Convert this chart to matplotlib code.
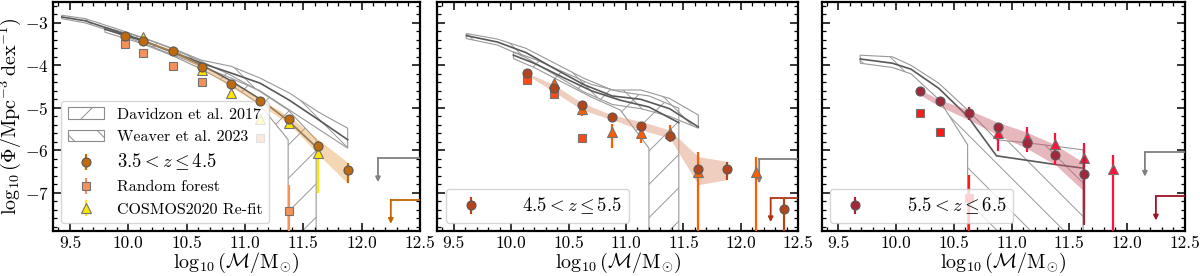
import numpy as np
import matplotlib
matplotlib.use("Agg")
import matplotlib.pyplot as plt
from matplotlib.patches import Polygon, Patch

plt.rcParams['font.family'] = 'serif'
plt.rcParams['font.serif'] = ['cmr10', 'DejaVu Serif']
plt.rcParams['mathtext.fontset'] = 'cm'
plt.rcParams['axes.formatter.use_mathtext'] = True
plt.rcParams['hatch.linewidth'] = 0.7

nan = np.nan

# ---------------- literature bands ----------------
# Davidzon et al. 2017 (hatch '/')
dav1_x = [9.80, 10.10, 10.37, 10.62, 10.87, 11.12, 11.37, 11.61]
dav1_hi = [-3.10, -3.33, -3.60, -3.90, -4.22, -4.60, -5.05, -5.75]
dav1_md = [-3.15, -3.40, -3.68, -3.98, -4.35, -4.78, -5.30, -5.92]
dav1_lo = [-3.22, -3.47, -3.76, -4.08, -4.45, -4.90, -5.75, nan]

dav2_x = [10.02, 10.20, 10.45, 10.70, 10.95, 11.20, 11.46]
dav2_hi = [-3.68, -3.85, -4.15, -4.45, -4.62, -4.72, -5.01]
dav2_md = [-3.76, -3.95, -4.28, -4.60, -4.82, -4.98, -5.35]
dav2_lo = [-3.84, -4.05, -4.40, -4.75, -5.05, -5.95, nan]

# Weaver et al. 2023 (hatch '\\')
wea1_x = [9.43, 9.63, 9.88, 10.13, 10.38, 10.63, 10.88, 11.13, 11.38, 11.63, 11.88]
wea1_hi = [-2.82, -2.90, -3.12, -3.35, -3.60, -3.88, -4.02, -4.30, -4.65, -5.10, -5.48]
wea1_md = [-2.86, -2.95, -3.18, -3.42, -3.68, -3.95, -4.18, -4.42, -4.82, -5.28, -5.75]
wea1_lo = [-2.90, -3.00, -3.22, -3.48, -3.75, -4.02, -4.30, -4.60, -5.05, -5.50, -5.95]

wea2_x = [9.61, 9.88, 10.13, 10.38, 10.63, 10.88, 11.13, 11.38, 11.63]
wea2_hi = [-3.25, -3.38, -3.60, -3.95, -4.30, -4.58, -4.58, -4.78, -5.17]
wea2_md = [-3.30, -3.45, -3.70, -4.08, -4.45, -4.72, -4.80, -5.02, -5.45]
wea2_lo = [-3.37, -3.52, -3.82, -4.22, -4.62, -4.92, -5.02, -5.20, -5.48]

wea3_x = [9.69, 9.97, 10.13, 10.37, 10.62, 10.87, 11.12, 11.37, 11.62]
wea3_hi = [-3.76, -3.80, -4.00, -4.42, -5.05, -5.75, -5.82, -5.90, -5.99]
wea3_md = [-3.85, -3.95, -4.09, -4.54, -5.20, -6.13, -6.23, -6.33, -6.42]
wea3_lo = [-3.95, -4.05, -4.20, -4.80, -5.87, nan, nan, nan, nan]

# ---------------- this work: panel 1 (3.5<z<=4.5) ----------------
c1_x = [9.97, 10.13, 10.38, 10.63, 10.88, 11.13, 11.38, 11.63, 11.88]
c1_y = [-3.31, -3.43, -3.66, -4.03, -4.44, -4.85, -5.26, -5.89, -6.47]
c1_lo = [0.03, 0.03, 0.03, 0.03, 0.04, 0.05, 0.08, 0.12, 0.30]
c1_hi = [0.03, 0.03, 0.03, 0.03, 0.04, 0.05, 0.07, 0.10, 0.17]
s1_x = [9.97, 10.13, 10.38, 10.63, 11.13, 11.38]
s1_y = [-3.50, -3.70, -4.02, -4.38, -5.71, -7.44]
s1_lo = [0.02, 0.02, 0.02, 0.03, 0.05, 1.00]
s1_hi = [0.02, 0.02, 0.02, 0.03, 0.05, 0.63]
t1_x = [10.13, 10.63, 10.88, 11.13, 11.38, 11.63]
t1_y = [-3.34, -4.11, -4.64, -5.27, -5.35, -6.07]
t1_lo = [0.02, 0.03, 0.03, 0.10, 0.10, 0.93]
t1_hi = [0.02, 0.03, 0.03, 0.10, 0.10, 0.12]
b1_x = [10.13, 10.38, 10.63, 10.88, 11.13, 11.38, 11.63, 11.88]
b1_hi = [-3.40, -3.62, -3.98, -4.38, -4.80, -5.20, -5.75, -6.28]
b1_lo = [-3.46, -3.70, -4.08, -4.50, -4.93, -5.38, -6.10, -6.78]
ul1_x = [12.14, 12.25]
ul1_y = [-6.18, -7.16]

# ---------------- panel 2 (4.5<z<=5.5) ----------------
c2_x = [10.14, 10.37, 10.62, 10.88, 11.13, 11.38, 11.63, 11.88, 12.38]
c2_y = [-4.19, -4.54, -4.93, -5.22, -5.42, -5.66, -6.44, -6.43, -7.38]
c2_lo = [0.04, 0.04, 0.04, 0.04, 0.05, 0.08, 0.10, 0.26, 1.00]
c2_hi = [0.04, 0.04, 0.04, 0.04, 0.05, 0.08, 0.10, 0.15, 0.23]
s2_x = [10.14, 10.37, 10.62]
s2_y = [-4.35, -4.67, -5.71]
s2_lo = [0.03, 0.03, 0.10]
s2_hi = [0.03, 0.03, 0.10]
t2_x = [10.37, 10.62, 10.88, 11.13, 11.38, 11.63, 12.13]
t2_y = [-4.42, -5.03, -5.58, -5.60, -5.60, -6.50, -6.50]
t2_lo = [0.03, 0.17, 0.37, 0.22, 0.20, 1.50, 1.50]
t2_hi = [0.03, 0.03, 0.20, 0.23, 0.20, 0.47, 0.35]
b2_x = [10.14, 10.37, 10.62, 10.88, 11.13, 11.38, 11.63, 11.88]
b2_hi = [-4.18, -4.45, -4.89, -5.17, -5.32, -5.52, -6.15, -6.26]
b2_lo = [-4.23, -4.62, -5.05, -5.28, -5.52, -5.71, -6.81, -6.69]
ul2_x = [12.16, 12.26]
ul2_y = [-6.21, -7.12]

# ---------------- panel 3 (5.5<z<=6.5) ----------------
c3_x = [10.21, 10.38, 10.63, 10.88, 11.13, 11.38, 11.63]
c3_y = [-4.61, -4.84, -5.13, -5.44, -5.83, -6.11, -6.56]
c3_lo = [0.03, 0.03, 0.15, 0.05, 0.08, 0.10, 1.20]
c3_hi = [0.03, 0.03, 0.16, 0.05, 0.08, 0.10, 0.40]
s3_x = [10.21, 10.38, 10.63]
s3_y = [-5.13, -5.56, -7.12]
s3_lo = [0.07, 0.03, 1.00]
s3_hi = [0.08, 0.03, 0.54]
t3_x = [10.88, 11.13, 11.38, 11.63, 11.88]
t3_y = [-5.60, -5.68, -5.86, -6.17, -6.44]
t3_lo = [0.41, 0.36, 0.49, 1.20, 1.60]
t3_hi = [0.12, 0.22, 0.26, 0.34, 0.33]
b3_x = [10.21, 10.38, 10.63, 10.88, 11.13, 11.38, 11.63]
b3_hi = [-4.58, -4.81, -5.05, -5.34, -5.57, -5.87, -6.30]
b3_lo = [-4.70, -4.97, -5.28, -5.64, -5.95, -6.34, -6.97]
ul3_x = [12.155, 12.25]
ul3_y = [-6.05, -7.08]

labels_z = [r'$3.5 < z \leq 4.5$', r'$4.5 < z \leq 5.5$', r'$5.5 < z \leq 6.5$']

col_c = ['#bf6a0c', '#b4441a', '#a0283a']
col_s = ['#f5915a', '#ff4a18', '#ff1a1a']
col_t = ['#ffe600', '#ff5e00', '#ff1038']
col_b = ['#e8a455', '#dd9373', '#c8606e']
col_ul = ['#c46400', '#b03410', '#9c1226']

XMIN, XMAX = 9.357, 12.5
YMIN, YMAX = -7.9, -2.5


def band_poly(x, lo, hi, hatch, floor=-12.0):
    verts = [(xi, yi) for xi, yi in zip(x, hi)]
    n = len(x)
    for i in range(n - 1, -1, -1):
        if np.isnan(lo[i]):
            verts.append((x[i], floor))
        else:
            if i < n - 1 and np.isnan(lo[i + 1]):
                verts.append((x[i], floor))
            verts.append((x[i], lo[i]))
    return Polygon(verts, closed=True, facecolor='none', edgecolor='0.6',
                   hatch=hatch, lw=0.8, zorder=1)


def upper_limit(ax, x0, y0, color):
    ax.plot([x0, XMAX + 0.2], [y0, y0], color=color, lw=1.3, zorder=3, clip_on=True)
    ax.annotate('', xy=(x0, y0 - 0.57), xytext=(x0, y0),
                arrowprops=dict(arrowstyle='-|>', color=color, lw=1.3,
                                mutation_scale=7, shrinkA=0, shrinkB=0),
                zorder=3)


fig = plt.figure(figsize=(12, 2.76), dpi=100)
positions = [[0.0444, 0.163, 0.3056, 0.831],
             [0.3644, 0.163, 0.3008, 0.831],
             [0.6848, 0.163, 0.3025, 0.831]]
axes = [fig.add_axes(p) for p in positions]

bands = [
    [(dav1_x, dav1_lo, dav1_md, dav1_hi, '/'), (wea1_x, wea1_lo, wea1_md, wea1_hi, '\\')],
    [(dav2_x, dav2_lo, dav2_md, dav2_hi, '/'), (wea2_x, wea2_lo, wea2_md, wea2_hi, '\\')],
    [(wea3_x, wea3_lo, wea3_md, wea3_hi, '\\')],
]
circles = [(c1_x, c1_y, c1_lo, c1_hi), (c2_x, c2_y, c2_lo, c2_hi), (c3_x, c3_y, c3_lo, c3_hi)]
squares = [(s1_x, s1_y, s1_lo, s1_hi), (s2_x, s2_y, s2_lo, s2_hi), (s3_x, s3_y, s3_lo, s3_hi)]
triangles = [(t1_x, t1_y, t1_lo, t1_hi), (t2_x, t2_y, t2_lo, t2_hi), (t3_x, t3_y, t3_lo, t3_hi)]
shades = [(b1_x, b1_lo, b1_hi), (b2_x, b2_lo, b2_hi), (b3_x, b3_lo, b3_hi)]
ulims = [(ul1_x, ul1_y), (ul2_x, ul2_y), (ul3_x, ul3_y)]

for k, ax in enumerate(axes):
    for (bx, blo, bmd, bhi, h) in bands[k]:
        ax.add_patch(band_poly(bx, blo, bhi, h))
        ax.plot(bx, bmd, color='0.35', lw=1.2, zorder=1.5)

    sx, slo, shi = shades[k]
    ax.fill_between(sx, slo, shi, color=col_b[k], alpha=0.45, lw=0, zorder=2)

    gx, gy = ulims[k]
    upper_limit(ax, gx[0], gy[0], '0.5')
    upper_limit(ax, gx[1], gy[1], col_ul[k])

    x, y, lo, hi = squares[k]
    hs = ax.errorbar(x, y, yerr=[lo, hi], fmt='s', color=col_s[k], mfc=col_s[k],
                     mec='0.45', mew=0.8, ms=6, elinewidth=1.6, capsize=0, zorder=4)
    x, y, lo, hi = triangles[k]
    ht = ax.errorbar(x, y, yerr=[lo, hi], fmt='^', color=col_t[k], mfc=col_t[k],
                     mec='0.45', mew=0.8, ms=7.5, elinewidth=1.6, capsize=0, zorder=4.5)
    x, y, lo, hi = circles[k]
    hc = ax.errorbar(x, y, yerr=[lo, hi], fmt='o', color=col_c[k], mfc=col_c[k],
                     mec='0.35', mew=0.8, ms=6.5, elinewidth=1.6, capsize=0, zorder=5)

    ax.set_xlim(XMIN, XMAX)
    ax.set_ylim(YMIN, YMAX)
    ax.set_xticks([9.5, 10.0, 10.5, 11.0, 11.5, 12.0, 12.5])
    ax.set_xticklabels(['9.5', '10.0', '10.5', '11.0', '11.5', '12.0', '12.5'])
    ax.set_xticks(np.arange(9.4, 12.51, 0.1), minor=True)
    ax.set_yticks([-7, -6, -5, -4, -3])
    ax.set_yticks(np.arange(-7.8, -2.49, 0.2), minor=True)
    ax.tick_params(which='both', direction='in', top=True, right=True, labelsize=12.5)
    ax.tick_params(which='major', length=6, width=1.1)
    ax.tick_params(which='minor', length=3, width=0.9)
    for sp in ax.spines.values():
        sp.set_linewidth(1.6)
    ax.set_xlabel(r'$\log_{10}(\mathcal{M}/\mathrm{M}_{\odot})$', fontsize=14.5, labelpad=0)

    if k == 0:
        ax.set_ylabel(r'$\log_{10}(\Phi/\mathrm{Mpc}^{-3}\,\mathrm{dex}^{-1})$', fontsize=14.5, labelpad=1)
        p_dav = Patch(facecolor='none', edgecolor='0.55', hatch='/', lw=0.8)
        p_wea = Patch(facecolor='none', edgecolor='0.55', hatch='\\', lw=0.8)
        leg = ax.legend([p_dav, p_wea, hc, hs, ht],
                        ['Davidzon et al. 2017', 'Weaver et al. 2023', labels_z[0],
                         'Random forest', 'COSMOS2020 Re-fit'],
                        loc='lower left', fontsize=11.5, handlelength=2.3,
                        framealpha=0.8, labelspacing=0.5)
    else:
        ax.tick_params(labelleft=False)
        leg = ax.legend([hc], [labels_z[k]], loc='lower left', fontsize=12,
                        handlelength=2.2, handletextpad=2.0, framealpha=0.8)
    for t in leg.get_texts():
        if t.get_text().startswith('$'):
            t.set_fontsize(13.5)

fig.savefig('out.png', dpi=100)
